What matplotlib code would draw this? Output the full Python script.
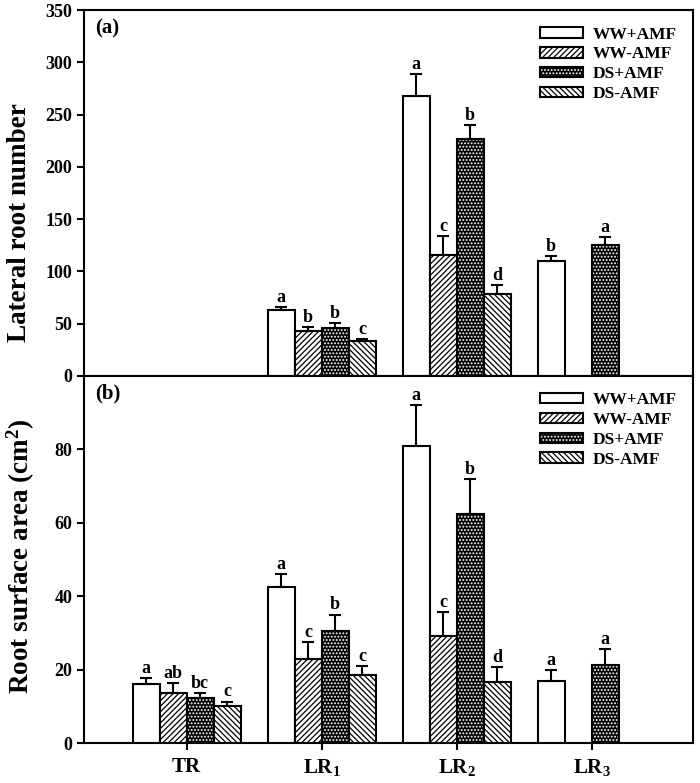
import numpy as np
import matplotlib
matplotlib.use("Agg")
import matplotlib.pyplot as plt
from matplotlib.legend_handler import HandlerTuple

plt.rcParams['font.family'] = ['Liberation Serif', 'DejaVu Serif']
plt.rcParams['font.weight'] = 'bold'
plt.rcParams['mathtext.fontset'] = 'custom'
plt.rcParams['mathtext.rm'] = 'Liberation Serif:bold'
plt.rcParams['mathtext.it'] = 'Liberation Serif:italic:bold'
plt.rcParams['mathtext.bf'] = 'Liberation Serif:bold'
plt.rcParams['hatch.linewidth'] = 0.9

categories = ['TR', 'LR$_1$', 'LR$_2$', 'LR$_3$']
treatments = ['WW+AMF', 'WW-AMF', 'DS+AMF', 'DS-AMF']
nan = np.nan

# Panel (a): lateral root number
lat_mean = {
    'WW+AMF': [nan, 63, 268, 110],
    'WW-AMF': [nan, 43, 116, nan],
    'DS+AMF': [nan, 46, 227, 125],
    'DS-AMF': [nan, 33, 78, nan],
}
lat_err = {
    'WW+AMF': [nan, 3, 21, 5],
    'WW-AMF': [nan, 4, 18, nan],
    'DS+AMF': [nan, 5, 13, 8],
    'DS-AMF': [nan, 2, 9, nan],
}
lat_letters = {
    'WW+AMF': ['', 'a', 'a', 'b'],
    'WW-AMF': ['', 'b', 'c', ''],
    'DS+AMF': ['', 'b', 'b', 'a'],
    'DS-AMF': ['', 'c', 'd', ''],
}

# Panel (b): root surface area
area_mean = {
    'WW+AMF': [16.0, 42.5, 81.0, 16.8],
    'WW-AMF': [13.6, 23.0, 29.2, nan],
    'DS+AMF': [12.3, 30.5, 62.5, 21.2],
    'DS-AMF': [10.2, 18.5, 16.6, nan],
}
area_err = {
    'WW+AMF': [1.8, 3.6, 11.0, 3.0],
    'WW-AMF': [2.7, 4.5, 6.4, nan],
    'DS+AMF': [1.4, 4.5, 9.5, 4.5],
    'DS-AMF': [1.1, 2.5, 4.0, nan],
}
area_letters = {
    'WW+AMF': ['a', 'a', 'a', 'a'],
    'WW-AMF': ['ab', 'c', 'c', ''],
    'DS+AMF': ['bc', 'b', 'b', 'a'],
    'DS-AMF': ['c', 'c', 'd', ''],
}

styles = {
    'WW+AMF': dict(face='white', hatch=None, dots=False),
    'WW-AMF': dict(face='white', hatch='//////', dots=False),
    'DS+AMF': dict(face='black', hatch='.....', dots=True),
    'DS-AMF': dict(face='white', hatch='\\\\\\\\\\\\', dots=False),
}

fig = plt.figure(figsize=(7.0, 7.83), dpi=100)
axa = fig.add_axes([0.12, 0.52, 0.87, 0.467])
axb = fig.add_axes([0.12, 0.051, 0.87, 0.469])

x = np.arange(1, len(categories) + 1)
width = 0.2
offsets = np.array([-1.5, -0.5, 0.5, 1.5]) * width
LW = 1.5


def draw(ax, means, errs, letters, gap):
    handles = {}
    for i, t in enumerate(treatments):
        m = np.array(means[t], dtype=float)
        e = np.array(errs[t], dtype=float)
        ok = ~np.isnan(m)
        xs = x[ok] + offsets[i]
        st = styles[t]
        if st['dots']:
            b1 = ax.bar(xs, m[ok], width, color='black', edgecolor='white',
                        hatch=st['hatch'], linewidth=0, zorder=2)
            b2 = ax.bar(xs, m[ok], width, fill=False, edgecolor='black',
                        linewidth=LW, zorder=3)
            handles[t] = (b1.patches[0], b2.patches[0])
        else:
            b = ax.bar(xs, m[ok], width, facecolor=st['face'], edgecolor='black',
                       hatch=st['hatch'], linewidth=LW, zorder=3)
            handles[t] = b.patches[0]
        ax.errorbar(xs, m[ok], yerr=[np.zeros(ok.sum()), e[ok]], fmt='none',
                    ecolor='black', elinewidth=LW, capsize=4, capthick=LW, zorder=4)
        for xi, mi, ei, lab in zip(xs, m[ok], e[ok], np.array(letters[t])[ok]):
            if lab:
                ax.text(xi, mi + ei + gap, lab, ha='center', va='bottom',
                        fontsize=13, fontweight='bold')
    return handles


ha = draw(axa, lat_mean, lat_err, lat_letters, 1.0)
hb = draw(axb, area_mean, area_err, area_letters, 0.3)

for ax in (axa, axb):
    ax.set_xlim(0.24, 4.75)
    for s in ax.spines.values():
        s.set_linewidth(LW)
    ax.tick_params(axis='y', direction='out', length=5, width=LW, labelsize=13)
    for lab in ax.get_yticklabels():
        lab.set_fontweight('bold')

axa.set_ylim(0, 350)
axa.set_yticks(np.arange(0, 351, 50))
axa.set_xticks([])
axa.set_ylabel('Lateral root number', fontsize=19.5, fontweight='bold')
axa.yaxis.set_label_coords(-0.085, 0.42)
axa.text(0.018, 0.978, '(a)', transform=axa.transAxes, ha='left', va='top',
         fontsize=15, fontweight='bold')

axb.set_ylim(0, 100)
axb.set_yticks([0, 20, 40, 60, 80])
axb.set_xticks(x)
axb.set_xticklabels(categories, fontsize=15, fontweight='bold')
axb.tick_params(axis='x', direction='out', length=5, width=LW, pad=5)
axb.set_ylabel('Root surface area (cm$^2$)', fontsize=19.5, fontweight='bold')
axb.yaxis.set_label_coords(-0.077, 0.51)
axb.text(0.018, 0.978, '(b)', transform=axb.transAxes, ha='left', va='top',
         fontsize=15, fontweight='bold')

for ax, h in ((axa, ha), (axb, hb)):
    ax.legend([h[t] for t in treatments], treatments, loc='upper right',
              frameon=False, handlelength=2.45, handleheight=0.55,
              labelspacing=0.22, handletextpad=0.55, borderaxespad=0.55,
              prop={'weight': 'bold', 'size': 12.5},
              handler_map={tuple: HandlerTuple(ndivide=1, pad=0)})

fig.savefig('out.png', dpi=100)
